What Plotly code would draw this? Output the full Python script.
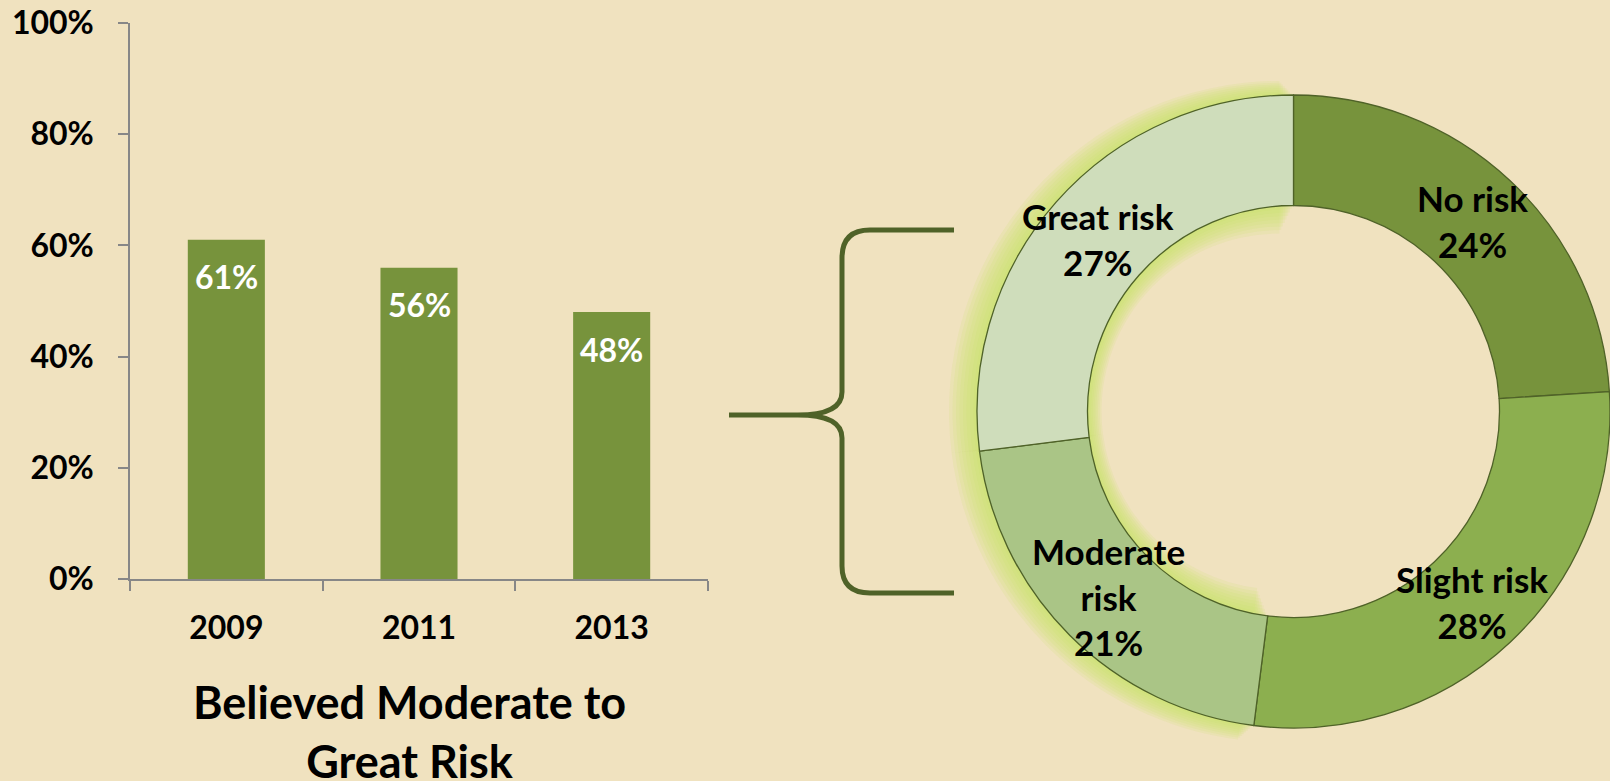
import math
import plotly.graph_objects as go

# ---------------- data ----------------
years = ["2009", "2011", "2013"]
moderate_to_great = [0.61, 0.56, 0.48]

risk_labels = ["No risk", "Slight risk", "Moderate risk", "Great risk"]
risk_display = ["No risk", "Slight risk", "Moderate<br>risk", "Great risk"]
risk_values = [24, 28, 21, 27]
risk_colors = ["#77933C", "#8CAF4F", "#AAC586", "#CFDDBB"]
glow_slices = [False, False, True, True]

y_ticks = [0, 0.2, 0.4, 0.6, 0.8, 1.0]
title_text = "Believed Moderate to<br>Great Risk"

# ---------------- layout geometry (pixels) ----------------
W, H = 1610, 781
FONT = "Lato"

def px_x(x):
    return x / W

def px_y(y):
    return 1 - y / H

# donut box (left/top/bottom from the reference; right edge clipped by page)
d_left, d_top, d_bottom = 977, 93, 730
d_right = W
R = (d_right - d_left) / 2
cx = (d_left + d_right) / 2
cy = (d_top + d_bottom) / 2
r_in = 206
hole = r_in / R

fig = go.Figure()

# bars
fig.add_trace(go.Bar(
    x=years, y=moderate_to_great,
    marker=dict(color="#77933C", line=dict(width=0)),
    xaxis="x", yaxis="y", hoverinfo="skip", showlegend=False,
))

# soft glow layers behind the light slices of the donut
for k in range(1, 9):
    g = 3.5 * k
    left = d_left - g
    w = d_right - left
    Rg = w / 2
    cols = ["rgba(196,226,100,0.14)" if s else "rgba(0,0,0,0)" for s in glow_slices]
    fig.add_trace(go.Pie(
        values=risk_values, labels=risk_labels, sort=False, direction="clockwise",
        rotation=0, hole=max(r_in - g, 0) / Rg,
        domain=dict(x=[px_x(left), 1], y=[px_y(cy + Rg), px_y(cy - Rg)]),
        marker=dict(colors=cols, line=dict(width=0)),
        textinfo="none", hoverinfo="skip", showlegend=False,
    ))

# main donut
fig.add_trace(go.Pie(
    values=risk_values, labels=risk_labels, sort=False, direction="clockwise",
    rotation=0, hole=hole,
    domain=dict(x=[px_x(d_left), 1], y=[px_y(d_bottom), px_y(d_top)]),
    marker=dict(colors=risk_colors, line=dict(color="#4F6228", width=1.3)),
    textinfo="none", hoverinfo="label+percent", showlegend=False,
))

# invisible helper trace establishing the donut-label axes
fig.add_trace(go.Scatter(x=[-1, 1], y=[-1, 1], mode="markers",
                         marker=dict(opacity=0), xaxis="x2", yaxis="y2",
                         hoverinfo="skip", showlegend=False))

annotations = []
# bar value labels (category index on the category axis)
for i, v in enumerate(moderate_to_great):
    annotations.append(dict(
        x=i, y=v, xref="x", yref="y", text=f"{v:.0%}", showarrow=False,
        yanchor="middle", yshift=-37,
        font=dict(family=FONT, size=32, color="white", weight="bold"),
    ))

# donut labels at ring mid-radius, mid-angle of each slice
total = sum(risk_values)
cum = 0
r_mid = (1 + hole) / 2
for lab, v in zip(risk_display, risk_values):
    ang = 2 * math.pi * (cum + v / 2) / total
    cum += v
    annotations.append(dict(
        x=r_mid * math.sin(ang), y=r_mid * math.cos(ang), xref="x2", yref="y2",
        text=f"{lab}<br>{v}%", showarrow=False, align="center",
        font=dict(family=FONT, size=35, color="black", weight="bold"),
    ))

# chart title below the bars
annotations.append(dict(
    x=px_x(410), y=px_y(731), xref="paper", yref="paper", text=title_text,
    showarrow=False, xanchor="center", yanchor="middle", align="center",
    font=dict(family=FONT, size=45, color="black", weight="bold"),
))

def P(x, y):
    return f"{px_x(x):.5f},{px_y(y):.5f}"

brace = (f"M{P(954,230)} L{P(870,230)} Q{P(842,230)} {P(842,258)} "
         f"L{P(842,392)} Q{P(842,415)} {P(798,415)} L{P(729,415)} "
         f"L{P(798,415)} Q{P(842,415)} {P(842,438)} "
         f"L{P(842,566)} Q{P(842,593)} {P(870,593)} L{P(954,593)}")

fig.update_layout(
    width=W, height=H,
    margin=dict(l=0, r=0, t=0, b=0, pad=0),
    paper_bgcolor="#F0E2BF",
    plot_bgcolor="rgba(0,0,0,0)",
    bargap=0.6,
    font=dict(family=FONT, color="black"),
    xaxis=dict(
        domain=[px_x(130), px_x(708)], type="category", range=[-0.5, 2.5],
        showline=True, linecolor="#878787", linewidth=1.5,
        ticks="outside", tickson="boundaries", ticklen=10, tickcolor="#878787", tickwidth=1.5,
        tickfont=dict(family=FONT, size=32, color="black", weight="bold"),
        ticklabelstandoff=20, showgrid=False, zeroline=False, fixedrange=True,
        anchor="y", automargin=False,
    ),
    yaxis=dict(
        domain=[px_y(579), px_y(23)], range=[0, 1],
        tickvals=y_ticks, tickformat=".0%",
        showline=True, linecolor="#878787", linewidth=1.5,
        ticks="outside", ticklen=10, tickcolor="#878787", tickwidth=1.5,
        tickfont=dict(family=FONT, size=32, color="black", weight="bold"),
        ticklabelstandoff=18, showgrid=False, zeroline=False, fixedrange=True,
        anchor="x", automargin=False,
    ),
    xaxis2=dict(domain=[px_x(cx - R), px_x(cx + R)], range=[-1, 1], visible=False,
                anchor="y2", fixedrange=True, automargin=False),
    yaxis2=dict(domain=[px_y(cy + R), px_y(cy - R)], range=[-1, 1], visible=False,
                anchor="x2", fixedrange=True, automargin=False),
    annotations=annotations,
    shapes=[dict(type="path", path=brace, xref="paper", yref="paper",
                 line=dict(color="#4F6228", width=5), layer="above")],
    showlegend=False,
)

fig.write_html(
    "out.html",
    config={"displayModeBar": False},
    post_script="document.body.style.margin='0';document.body.style.overflow='hidden';",
)
